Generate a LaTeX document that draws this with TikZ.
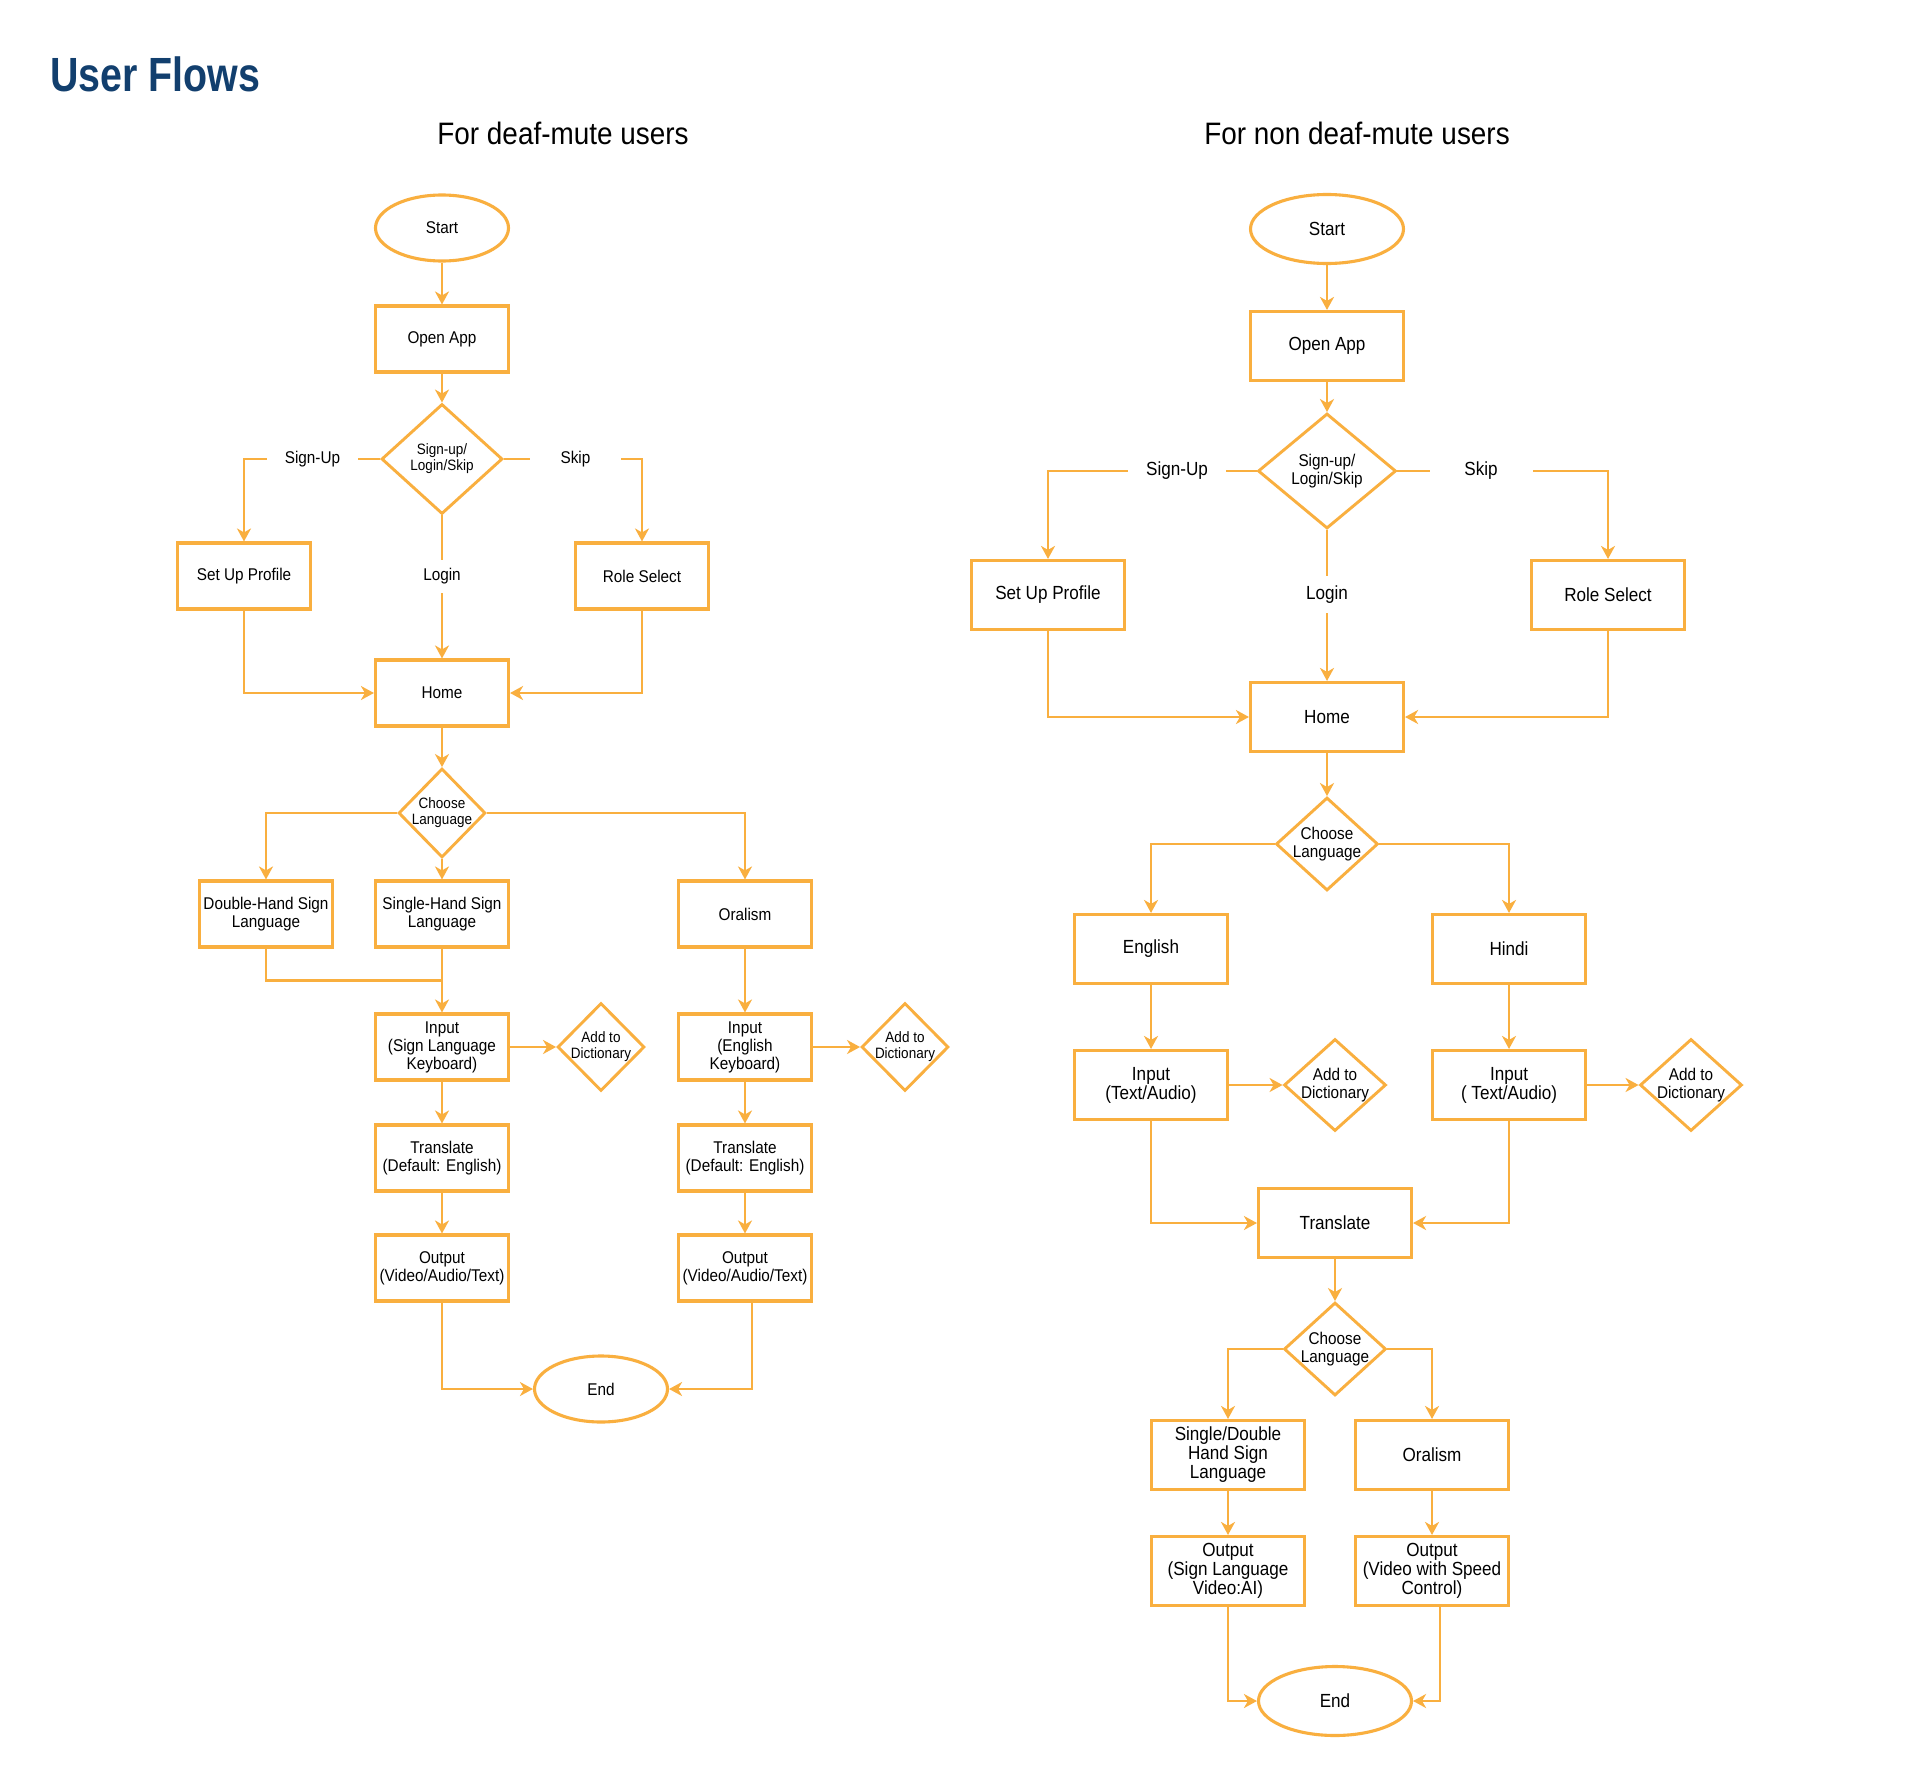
\documentclass[tikz,border=0pt]{standalone}
\usepackage{fontspec}
\setmainfont{Liberation Sans}[FakeStretch=0.9]
\newfontfamily\titlefont{Liberation Sans}[FakeStretch=0.82]
\usetikzlibrary{shapes.geometric,arrows.meta,calc}
\definecolor{org}{HTML}{F9AF3F}
\definecolor{ttl}{HTML}{123F6E}
\begin{document}
\begin{tikzpicture}[x=1pt,y=-1pt,
  ln/.style={draw=org, line width=2.6pt},
  arr/.style={ln, -{Stealth[length=13pt,width=14pt,inset=4pt]}},
  box/.style={draw=org, line width=3.1pt, minimum width=133pt, minimum height=66pt, inner sep=1pt, align=center, font=\fontsize{17}{18}\selectfont},
  boxR/.style={box, minimum width=153pt, minimum height=69pt, font=\fontsize{19}{19}\selectfont},
  ell/.style={draw=org, line width=3.1pt, ellipse, inner sep=0pt, minimum width=133pt, minimum height=66pt, font=\fontsize{17}{18}\selectfont},
  ellR/.style={ell, minimum width=153pt, minimum height=69pt, font=\fontsize{19}{19}\selectfont},
  dia/.style={draw=org, line width=2.9pt, diamond, inner sep=0pt},
  dtxtL/.style={align=center, inner sep=0pt, font=\fontsize{15}{16}\selectfont},
  dtxtR/.style={align=center, inner sep=0pt, font=\fontsize{17}{18}\selectfont},
  lbl/.style={fill=white, inner sep=0pt, font=\fontsize{17}{18}\selectfont},
  lblR/.style={fill=white, inner sep=0pt, font=\fontsize{19}{19}\selectfont},
  ttlsub/.style={anchor=base, inner sep=0pt, font=\fontsize{31}{33}\selectfont}
]
\useasboundingbox[fill=white] (0,0) rectangle (1920,1785);

% titles
\node[anchor=base west, inner sep=0pt, text=ttl, font=\titlefont\bfseries\fontsize{48}{50}\selectfont] (title) at (50,92) {User Flows};
\node[ttlsub] (tl) at (563,144) {For deaf-mute users};
\node[ttlsub] (tr) at (1357,144) {For non deaf-mute users};

% ---------------- left flow ----------------
\node[ell] (start1) at (442,228) {Start};
\node[box] (open1) at (442,339) {Open App};
\node[dia, minimum width=121pt, minimum height=110pt, label={[dtxtL]center:Sign-up/\\Login/Skip}] (d1) at (442,459) {};
\node[box] (sup1) at (244,576) {Set Up Profile};
\node[box] (rs1) at (642,576) {Role Select};
\node[box] (home1) at (442,693) {Home};
\node[dia, minimum width=87pt, minimum height=89pt, label={[dtxtL]center:Choose\\Language}] (cl1) at (442,813) {};
\node[box] (dh) at (266,914) {Double-Hand Sign\\Language};
\node[box] (sh) at (442,914) {Single-Hand Sign\\Language};
\node[box] (or1) at (745,914) {Oralism};
\node[box] (in1) at (442,1047) {Input\\(Sign Language\\Keyboard)};
\node[dia, minimum width=87pt, minimum height=88pt, label={[dtxtL]center:Add to\\Dictionary}] (ad1) at (601,1047) {};
\node[box] (in2) at (745,1047) {Input\\(English\\Keyboard)};
\node[dia, minimum width=87pt, minimum height=88pt, label={[dtxtL]center:Add to\\Dictionary}] (ad2) at (905,1047) {};
\node[box] (tr1) at (442,1158) {Translate\\(Default: English)};
\node[box] (tr2) at (745,1158) {Translate\\(Default: English)};
\node[box] (op1) at (442,1268) {Output\\(Video/Audio/Text)};
\node[box] (op2) at (745,1268) {Output\\(Video/Audio/Text)};
\node[ell] (end1) at (601,1389) {End};

\draw[arr] (start1) -- (open1);
\draw[arr] (open1) -- (d1);
\draw[arr] (d1.west) -| (sup1.north);
\draw[arr] (d1.east) -| (rs1.north);
\draw[arr] (d1.south) -- (home1.north);
\draw[arr] (sup1.south) |- (home1.west);
\draw[arr] (rs1.south) |- (home1.east);
\draw[arr] (home1) -- (cl1);
\draw[arr] (cl1.west) -| (dh.north);
\draw[arr] (cl1.south) -- (sh.north);
\draw[arr] (cl1.east) -| (or1.north);
\draw[ln] (dh.south) |- ($(sh.south)!.5!(in1.north)$);
\draw[arr] (sh) -- (in1);
\draw[arr] (or1) -- (in2);
\draw[arr] (in1) -- (ad1);
\draw[arr] (in2) -- (ad2);
\draw[arr] (in1) -- (tr1);
\draw[arr] (in2) -- (tr2);
\draw[arr] (tr1) -- (op1);
\draw[arr] (tr2) -- (op2);
\draw[arr] (op1.south) |- (end1.west);
\draw[arr] ([xshift=7pt]op2.south) |- (end1.east);

\node[lbl, minimum width=91pt, minimum height=20pt] (lsu1) at (312.5,459) {Sign-Up};
\node[lbl, minimum width=91pt, minimum height=20pt] (lsk1) at (575.5,459) {Skip};
\node[lbl, minimum width=50pt, minimum height=33pt] (llg1) at (442,576.5) {Login};

% ---------------- right flow ----------------
\node[ellR] (start2) at (1327,229) {Start};
\node[boxR] (open2) at (1327,346) {Open App};
\node[dia, minimum width=138pt, minimum height=115pt, label={[dtxtR]center:Sign-up/\\Login/Skip}] (d2) at (1327,471) {};
\node[boxR] (sup2) at (1048,595) {Set Up Profile};
\node[boxR] (rs2) at (1608,595) {Role Select};
\node[boxR] (home2) at (1327,717) {Home};
\node[dia, minimum width=102pt, minimum height=93pt, label={[dtxtR]center:Choose\\Language}] (cl2) at (1327,844) {};
\node[boxR] (en) at (1151,949) {English};
\node[boxR] (hi) at (1509,949) {Hindi};
\node[boxR] (ti1) at (1151,1085) {Input\\(Text/Audio)};
\node[dia, minimum width=102pt, minimum height=92pt, label={[dtxtR]center:Add to\\Dictionary}] (ad3) at (1335,1085) {};
\node[boxR] (ti2) at (1509,1085) {Input\\( Text/Audio)};
\node[dia, minimum width=102pt, minimum height=92pt, label={[dtxtR]center:Add to\\Dictionary}] (ad4) at (1691,1085) {};
\node[boxR] (tr3) at (1335,1223) {Translate};
\node[dia, minimum width=102pt, minimum height=93pt, label={[dtxtR]center:Choose\\Language}] (cl3) at (1335,1349) {};
\node[boxR] (sd) at (1228,1455) {Single/Double\\Hand Sign\\Language};
\node[boxR] (or2) at (1432,1455) {Oralism};
\node[boxR] (o3) at (1228,1571) {Output\\(Sign Language\\Video:AI)};
\node[boxR] (o4) at (1432,1571) {Output\\(Video with Speed\\Control)};
\node[ellR] (end2) at (1335,1701) {End};

\draw[arr] (start2) -- (open2);
\draw[arr] (open2) -- (d2);
\draw[arr] (d2.west) -| (sup2.north);
\draw[arr] (d2.east) -| (rs2.north);
\draw[arr] (d2.south) -- (home2.north);
\draw[arr] (sup2.south) |- (home2.west);
\draw[arr] (rs2.south) |- (home2.east);
\draw[arr] (home2) -- (cl2);
\draw[arr] (cl2.west) -| (en.north);
\draw[arr] (cl2.east) -| (hi.north);
\draw[arr] (en) -- (ti1);
\draw[arr] (hi) -- (ti2);
\draw[arr] (ti1) -- (ad3);
\draw[arr] (ti2) -- (ad4);
\draw[arr] (ti1.south) |- (tr3.west);
\draw[arr] (ti2.south) |- (tr3.east);
\draw[arr] (tr3) -- (cl3);
\draw[arr] (cl3.west) -| (sd.north);
\draw[arr] (cl3.east) -| (or2.north);
\draw[arr] (sd) -- (o3);
\draw[arr] (or2) -- (o4);
\draw[arr] (o3.south) |- (end2.west);
\draw[arr] ([xshift=8pt]o4.south) |- (end2.east);

\node[lblR, minimum width=98pt, minimum height=22pt] (lsu2) at (1177,471) {Sign-Up};
\node[lblR, minimum width=103pt, minimum height=22pt] (lsk2) at (1481,471) {Skip};
\node[lblR, minimum width=56pt, minimum height=37pt] (llg2) at (1327,594.5) {Login};
\end{tikzpicture}
\end{document}
